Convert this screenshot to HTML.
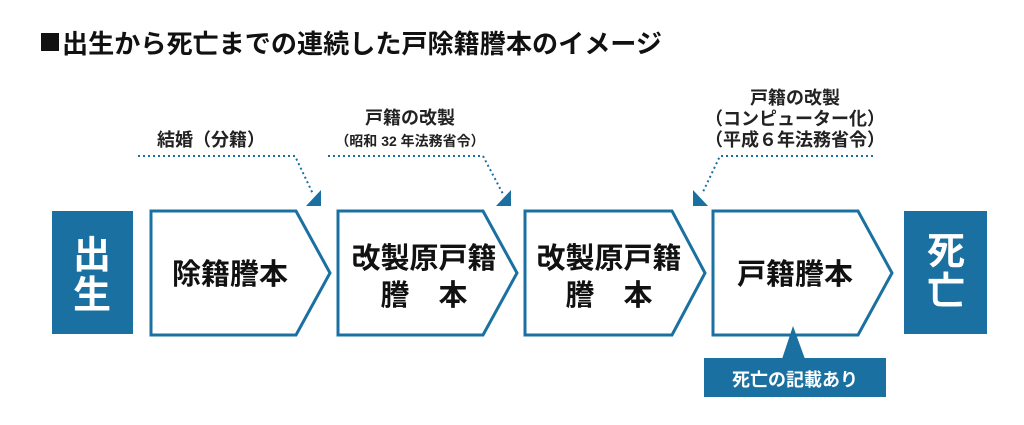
<!DOCTYPE html>
<html><head><meta charset="utf-8"><style>
body{margin:0;width:1024px;height:420px;background:#fff;overflow:hidden;font-family:"Liberation Sans","Noto Sans CJK JP",sans-serif;}
</style></head><body>
<svg width="1024" height="420" xmlns="http://www.w3.org/2000/svg" style="font-family:'Liberation Sans','Noto Sans CJK JP',sans-serif">
<rect x="41" y="33" width="18" height="18" fill="#111"/>
<text x="62" y="53" font-size="26" font-weight="bold" fill="#111" textLength="600" lengthAdjust="spacingAndGlyphs">出生から死亡までの連続した戸除籍謄本のイメージ</text>
<g fill="#222" font-weight="bold" text-anchor="middle">
<text x="211" y="146" font-size="18">結婚（分籍）</text>
<text x="410" y="124" font-size="18">戸籍の改製</text>
<text x="410" y="146" font-size="14">（昭和 32 年法務省令）</text>
<text x="795" y="104" font-size="18">戸籍の改製</text>
<text x="795" y="125" font-size="18">（コンピューター化）</text>
<text x="795" y="146" font-size="18">（平成６年法務省令）</text>
</g>
<g stroke="#1a70a0" stroke-width="2" stroke-dasharray="2,3" fill="none">
<polyline points="138,156 295,156 313,194"/>
<polyline points="328,156 483,156 503,194"/>
<polyline points="873,156 720,156 702,194"/>
</g>
<g fill="#1a70a0">
<polygon points="321,190 321,206 306,206"/>
<polygon points="511,190 511,206 496,206"/>
<polygon points="693,190 693,206 708,206"/>
</g>
<rect x="52" y="211" width="81" height="123" fill="#1a70a0"/>
<rect x="904" y="211" width="83" height="123" fill="#1a70a0"/>
<g fill="#fff" stroke="#1a70a0" stroke-width="3">
<polygon points="151,211 296,211 330,273 296,335 151,335"/>
<polygon points="338,211 483,211 517,273 483,335 338,335"/>
<polygon points="525,211 672,211 705,273 672,335 525,335"/>
<polygon points="713,211 858,211 892,273 858,335 713,335"/>
</g>
<polygon points="793,326 782,359 805,359" fill="#1a70a0"/>
<rect x="704" y="358" width="182" height="39" fill="#1a70a0"/>
<g fill="#fff" font-weight="bold" text-anchor="middle">
<text x="92" y="268" font-size="38">出</text>
<text x="92" y="308" font-size="38">生</text>
<text x="946" y="264" font-size="38">死</text>
<text x="946" y="304" font-size="38">亡</text>
<text x="795" y="386" font-size="18">死亡の記載あり</text>
</g>
<g fill="#111" font-weight="bold" text-anchor="middle" font-size="29">
<text x="230" y="284">除籍謄本</text>
<text x="424" y="268">改製原戸籍</text>
<text x="424" y="305" xml:space="preserve">謄　本</text>
<text x="609" y="268">改製原戸籍</text>
<text x="609" y="305" xml:space="preserve">謄　本</text>
<text x="795" y="284">戸籍謄本</text>
</g>
</svg>
</body></html>
